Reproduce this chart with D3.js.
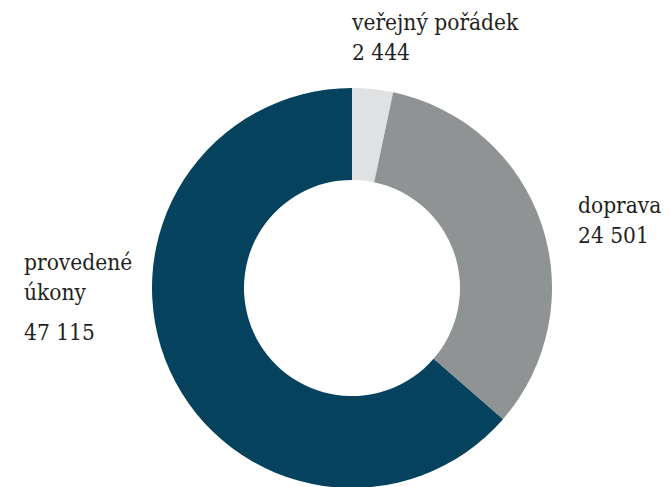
<!DOCTYPE html>
<html>
<head>
<meta charset="utf-8">
<script src="https://cdn.jsdelivr.net/npm/d3@7"></script>
<style>
  body { margin: 0; background: #fff; }
</style>
</head>
<body>
<div id="chart"></div>
<script>
var categories = ["veřejný pořádek", "doprava", "provedené úkony"];
var values = [2444, 24501, 47115];
var valueLabels = ["2 444", "24 501", "47 115"];
var colors = ["#e0e1e3", "#8f9393", "#05425d"];

var width = 669, height = 487;
var cx = 352, cy = 288, outerR = 200, innerR = 108;

var svg = d3.select("#chart")
  .append("svg")
  .attr("width", width)
  .attr("height", height);

var g = svg.append("g")
  .attr("transform", "translate(" + cx + "," + cy + ")");

var pie = d3.pie().sort(null).value(function(d) { return d; });
var arc = d3.arc().innerRadius(innerR).outerRadius(outerR);

g.selectAll("path")
  .data(pie(values))
  .enter()
  .append("path")
  .attr("d", arc)
  .attr("fill", function(d, i) { return colors[i]; });

// labels
var labelPos = [
  {x: 352, y: 30, lines: ["veřejný pořádek"], numY: 60},
  {x: 578, y: 213, lines: ["doprava"], numY: 243},
  {x: 24, y: 270, lines: ["provedené", "úkony"], numY: 340}
];

var font = "'DejaVu Serif Condensed', 'DejaVu Serif', serif";

labelPos.forEach(function(p, i) {
  var t = svg.append("text")
    .attr("x", p.x)
    .attr("y", p.y)
    .attr("font-family", font)
    .attr("font-stretch", "condensed")
    .attr("font-size", 22.5)
    .attr("fill", "#231f20");
  p.lines.forEach(function(l, j) {
    t.append("tspan").attr("x", p.x).attr("dy", j === 0 ? 0 : 30).text(l);
  });
  svg.append("text")
    .attr("x", p.x)
    .attr("y", p.numY)
    .attr("font-family", font)
    .attr("font-stretch", "condensed")
    .attr("font-size", 22.5)
    .attr("fill", "#231f20")
    .text(valueLabels[i]);
});
</script>
</body>
</html>
